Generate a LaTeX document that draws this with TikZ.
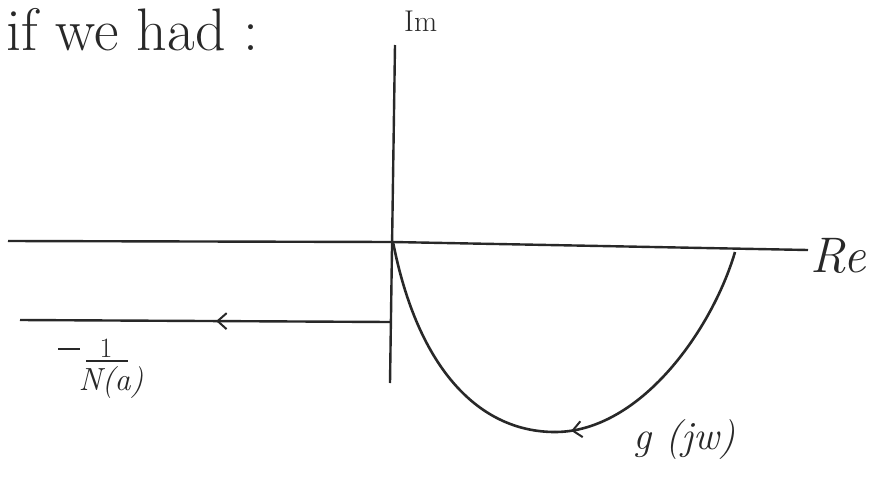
\documentclass[tikz,border=0pt]{standalone}
\usepackage{fontspec}
\usetikzlibrary{arrows.meta,decorations.markings}
\definecolor{ink}{RGB}{40,40,40}
\begin{document}
\begin{tikzpicture}[x=1pt,y=-1pt,
  axisline/.style={draw=ink,line width=2.4pt},
  curveline/.style={draw=ink,line width=2.6pt},
  lbl/.style={text=ink,inner sep=0pt},
  midbarb/.style={postaction={decorate},decoration={markings,
     mark=at position #1 with {\arrow{Straight Barb[length=9pt,width=16pt,line width=2pt]}}}}]
\useasboundingbox (0,0) rectangle (879,480);
% coordinates
\coordinate (imtop) at (395,45);
\coordinate (imbot) at (390,383);
\coordinate (reL) at (8,241);
\coordinate (reR) at (808,250);
\coordinate (O) at (393,242);
\coordinate (nR) at (390,322);
\coordinate (nL) at (20,320);
\coordinate (gB) at (555,432);
\coordinate (gE) at (735,252);
% axes
\draw[axisline] (imbot) -- (imtop);
\draw[axisline] (reL) -- (O) -- (reR);
% -1/N(a) line with arrow
\draw[axisline,midbarb=0.47] (nR) -- (nL);
% g(jw) curve
\draw[curveline] (O) .. controls (418,370) and (480,432) .. (gB);
\draw[curveline,midbarb=0.94] (gE) .. controls (712,330) and (640,432) .. (gB);
% labels
\node[lbl,anchor=base west,font=\fontsize{60}{66}\selectfont] (title) at (6,50) {if we had :};
\node[lbl,anchor=base west,font=\fontsize{30}{34}\selectfont] (im) at (404,31) {Im};
\node[lbl,font=\fontsize{50}{56}\selectfont\itshape] (re) at (838,256) {Re};
% -1/N(a)
\node[lbl,anchor=base,font=\fontsize{28}{32}\selectfont] (naone) at (106,357) {1};
\node[lbl,anchor=base,font=\fontsize{32}{36}\selectfont\itshape] (naden) at (111,390) {N(a)};
\coordinate (barL) at (86,361);
\coordinate (barR) at (128,361);
\draw[draw=ink,line width=2.4pt] (barL) -- (barR);
\coordinate (minL) at (58,349);
\coordinate (minR) at (80,349);
\draw[draw=ink,line width=2.4pt] (minL) -- (minR);
% g(jw)
\node[lbl,font=\fontsize{40}{46}\selectfont\itshape] (g) at (684,440) {g (jw)};
\end{tikzpicture}
\end{document}
